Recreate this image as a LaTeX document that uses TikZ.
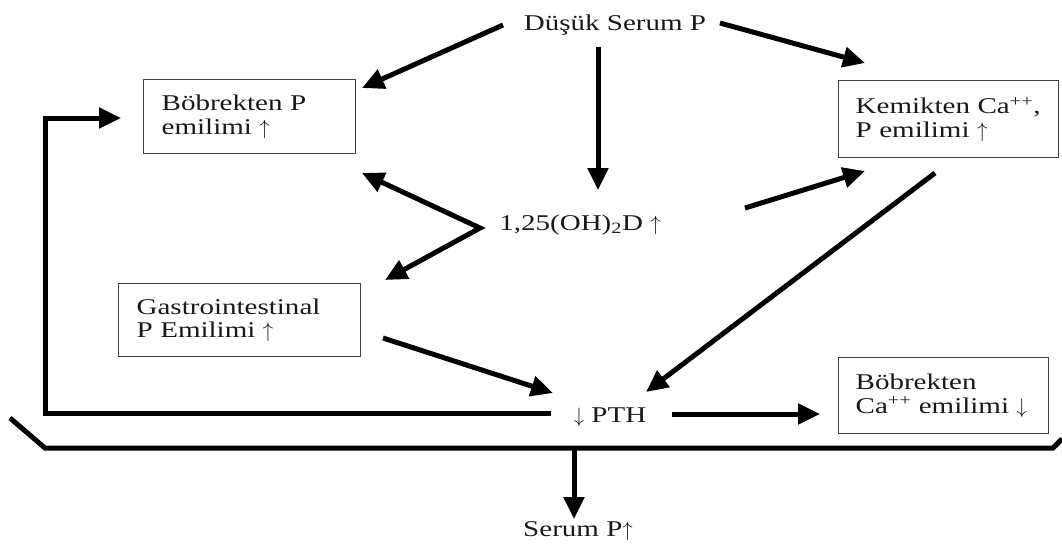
\documentclass[tikz,border=0pt]{standalone}
\usepackage{fontspec}
\setmainfont{Liberation Serif}[FakeStretch=1.29]
\usetikzlibrary{arrows.meta}
\newcommand{\upa}{\ensuremath{\uparrow}}
\newcommand{\dna}{\ensuremath{\downarrow}}
\begin{document}
\begin{tikzpicture}[x=1pt,y=-1pt,
  every node/.style={font=\fontsize{22.5}{23.5}\selectfont, text=black!90, inner sep=0pt},
  box/.style={draw=black!75, line width=1.3pt, anchor=north west, align=left, inner xsep=18pt, inner ysep=0pt},
  arr/.style={line width=5pt, -{Triangle[length=22pt,width=20pt]}},
  darr/.style={line width=5pt, line join=miter, {Triangle[length=22pt,width=20pt]}-{Triangle[length=22pt,width=20pt]}},
  ln/.style={line width=5pt, line join=miter}]
\useasboundingbox (0,0) rectangle (1062,544);
% texts
\node (dsp) at (615,25) {Düşük Serum P};
\node (vitd) at (580,225) {1,25(OH)\textsubscript{2}D \upa};
\node (pth) at (610,417) {\dna\ PTH};
\node (sp) at (578,531) {Serum P\upa};
% boxes
\node[box, minimum width=212pt, minimum height=74pt, text width=176pt] (bp) at (143,79) {Böbrekten P\\emilimi \upa};
\node[box, minimum width=220pt, minimum height=77pt, text width=186pt, inner xsep=17pt] (kc) at (838,80) {Kemikten Ca\textsuperscript{++},\\P emilimi \upa};
\node[box, minimum width=242pt, minimum height=73pt, text width=206pt] (gi) at (118,283) {Gastrointestinal\\P Emilimi \upa};
\node[box, minimum width=210pt, minimum height=76pt, text width=176pt, inner xsep=17pt] (bc) at (838,357) {Böbrekten\\Ca\textsuperscript{++} emilimi \dna};
% coordinates
\coordinate (a1s) at (503,25);   \coordinate (a1e) at (362,88);
\coordinate (a2s) at (720,23);   \coordinate (a2e) at (865,63);
\coordinate (a3s) at (598,47);   \coordinate (a3e) at (598,190);
\coordinate (c1) at (362,173);   \coordinate (cv) at (480,228);  \coordinate (c2) at (385,280);
\coordinate (a4s) at (745,208);  \coordinate (a4e) at (865,171);
\coordinate (a5s) at (935,173);  \coordinate (a5e) at (646,392);
\coordinate (a6s) at (383,338);  \coordinate (a6e) at (553,393);
\coordinate (a7s) at (672,414);  \coordinate (a7e) at (820,414);
\coordinate (f1) at (551,413);   \coordinate (f2) at (45,413); \coordinate (f3) at (45,118); \coordinate (f4) at (121,118);
\coordinate (b1) at (10,418);    \coordinate (b2) at (45,448); \coordinate (b3) at (1053,448); \coordinate (b4) at (1062,439);
\coordinate (ds) at (574,448);   \coordinate (de) at (574,519);
% connectors
\draw[arr] (a1s) -- (a1e);
\draw[arr] (a2s) -- (a2e);
\draw[arr] (a3s) -- (a3e);
\draw[darr] (c1) -- (cv) -- (c2);
\draw[arr] (a4s) -- (a4e);
\draw[arr] (a5s) -- (a5e);
\draw[arr] (a6s) -- (a6e);
\draw[arr] (a7s) -- (a7e);
\draw[arr, line join=miter] (f1) -- (f2) -- (f3) -- (f4);
\draw[ln] (b1) -- (b2) -- (b3) -- (b4);
\draw[arr] (ds) -- (de);
\end{tikzpicture}
\end{document}
